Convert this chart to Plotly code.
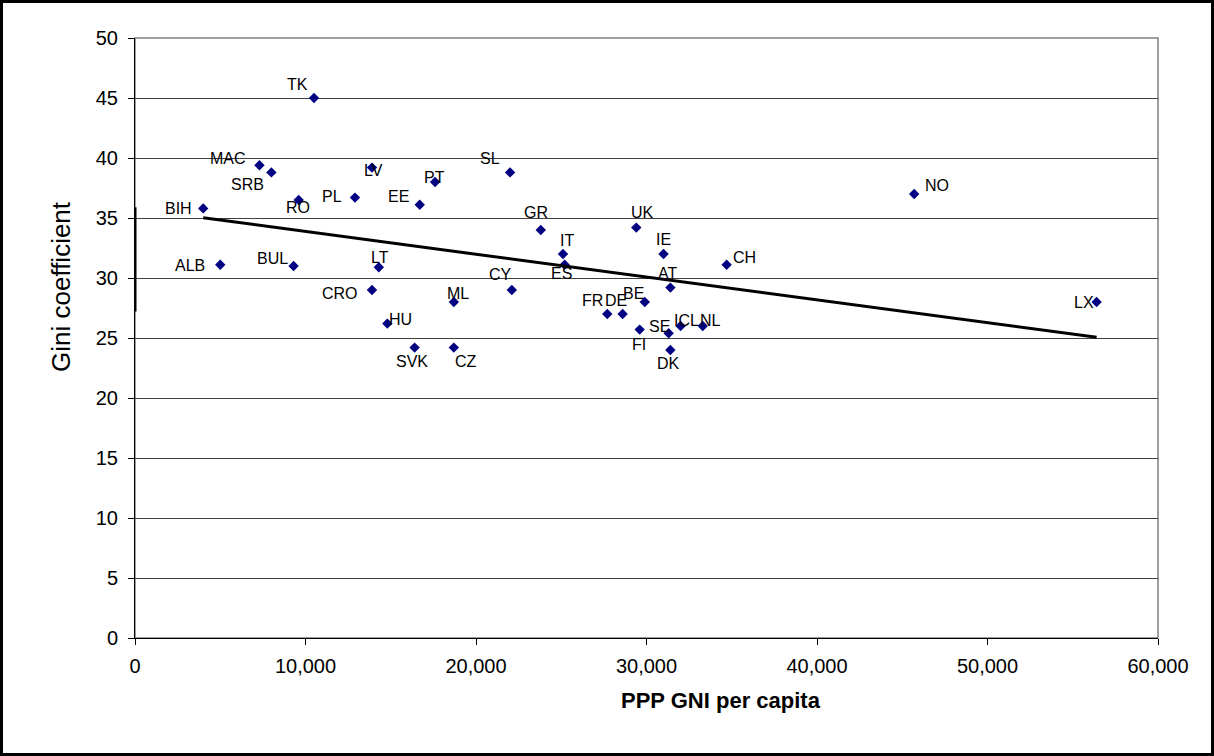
import numpy as np
import plotly.graph_objects as go

# ---- data ----
countries = ["TK", "MAC", "SRB", "BIH", "RO", "PL", "LV", "EE", "PT", "SL", "GR", "UK",
             "IT", "IE", "ALB", "BUL", "LT", "CRO", "ML", "HU", "SVK", "CZ", "CH", "ES",
             "CY", "AT", "BE", "FR", "DE", "FI", "SE", "ICL", "NL", "DK", "NO", "LX"]
gni_ppp = [10500, 7300, 8000, 4000, 9600, 12900, 13900, 16700, 17600, 22000, 23800, 29400,
           25100, 31000, 5000, 9300, 14300, 13900, 18700, 14800, 16400, 18700, 34700, 25200,
           22100, 31400, 29900, 27700, 28600, 29600, 31300, 32000, 33300, 31400, 45700, 56400]
gini = [45.0, 39.4, 38.8, 35.8, 36.5, 36.7, 39.2, 36.1, 38.0, 38.8, 34.0, 34.2,
        32.0, 32.0, 31.1, 31.0, 30.9, 29.0, 28.0, 26.2, 24.2, 24.2, 31.1, 31.1,
        29.0, 29.2, 28.0, 27.0, 27.0, 25.7, 25.4, 26.0, 26.0, 24.0, 37.0, 28.0]
y_ticks = [0, 5, 10, 15, 20, 25, 30, 35, 40, 45, 50]
x_ticks = [0, 10000, 20000, 30000, 40000, 50000, 60000]
axis_bar_y = [27.2, 35.9]   # thick segment drawn on the y axis in the original

# ---- label offsets (pixels: dx right, dy up) ----
label_offsets = {
    "TK": (-17, 14), "MAC": (-31, 7), "SRB": (-24, -12), "BIH": (-25, 0), "RO": (-1, -7),
    "PL": (-23, 1), "LV": (2, -3), "EE": (-21, 8), "PT": (-1, 5), "SL": (-20, 14),
    "GR": (-5, 18), "UK": (6, 15), "IT": (4, 14), "IE": (0, 15), "ALB": (-30, -1),
    "BUL": (-21, 8), "LT": (1, 10), "CRO": (-32, -3), "ML": (4, 9), "HU": (13, 4),
    "SVK": (-3, -14), "CZ": (12, -14), "CH": (18, 7), "ES": (-3, -9), "CY": (-11, 16),
    "AT": (-3, 14), "BE": (-11, 9), "FR": (-15, 14), "DE": (-7, 14), "FI": (-1, -15),
    "SE": (-9, 7), "ICL": (6, 6), "NL": (8, 6), "DK": (-2, -13), "NO": (23, 9),
    "LX": (-13, 0),
}

FONT = "Liberation Sans, Arial, Helvetica, sans-serif"
W, H = 1214, 756
L, R, T, B = 135, 56, 38, 118
PW, PH = W - L - R, H - T - B

# linear trend (OLS) across the data range
slope, intercept = np.polyfit(gni_ppp, gini, 1)
trend_x = [min(gni_ppp), max(gni_ppp)]
trend_y = [intercept + slope * v for v in trend_x]

fig = go.Figure()
fig.add_trace(go.Scatter(
    x=gni_ppp, y=gini, mode="markers",
    marker=dict(symbol="diamond", size=8, color="#000080", line=dict(width=0)),
    showlegend=False, hoverinfo="x+y",
))
fig.add_trace(go.Scatter(
    x=trend_x, y=trend_y, mode="lines",
    line=dict(color="black", width=3), showlegend=False, hoverinfo="skip",
))

annotations = []
for c, xv, yv in zip(countries, gni_ppp, gini):
    dx, dy = label_offsets[c]
    annotations.append(dict(
        x=xv, y=yv, xref="x", yref="y", text=c, showarrow=False,
        xshift=dx, yshift=dy, xanchor="center", yanchor="middle",
        font=dict(family=FONT, size=16, color="black"),
    ))

# axis titles
annotations.append(dict(
    x=(721 - L) / PW, y=(H - B - 700) / PH, xref="paper", yref="paper",
    text="<b>PPP GNI per capita</b>", showarrow=False,
    xanchor="center", yanchor="middle",
    font=dict(family=FONT, size=22, color="black"),
))
annotations.append(dict(
    x=(61 - L) / PW, y=(H - B - 287) / PH, xref="paper", yref="paper",
    text="Gini coefficient", showarrow=False, textangle=-90,
    xanchor="center", yanchor="middle",
    font=dict(family=FONT, size=26, color="black"),
))

shapes = [
    # plot area border
    dict(type="rect", xref="paper", yref="paper", x0=0, x1=1, y0=0, y1=1,
         line=dict(color="#808080", width=1.5), layer="below"),
    # thick segment on the y axis
    dict(type="line", xref="x", yref="y", x0=0, x1=0, y0=axis_bar_y[0], y1=axis_bar_y[1],
         line=dict(color="black", width=3)),
    # outer chart border
    dict(type="rect", xref="paper", yref="paper",
         x0=(-L + 1.5) / PW, x1=(W - L - 1.5) / PW,
         y0=(-B + 1.5) / PH, y1=(H - B - 1.5) / PH,
         line=dict(color="black", width=3)),
]

fig.update_layout(
    width=W, height=H,
    margin=dict(l=L, r=R, t=T, b=B, pad=0),
    paper_bgcolor="white", plot_bgcolor="white",
    font=dict(family=FONT, color="black"),
    annotations=annotations, shapes=shapes,
    showlegend=False,
    xaxis=dict(
        range=[0, 60000], tickvals=x_ticks, tickformat=",",
        showgrid=False, zeroline=False,
        showline=True, linecolor="black", linewidth=1,
        ticks="outside", ticklen=6, tickcolor="black", tickwidth=1,
        tickfont=dict(family=FONT, size=20, color="black"),
        ticklabelstandoff=4,
    ),
    yaxis=dict(
        range=[0, 50], tickvals=y_ticks,
        showgrid=True, gridcolor="#404040", gridwidth=1, zeroline=False,
        showline=True, linecolor="black", linewidth=1,
        ticks="outside", ticklen=6, tickcolor="black", tickwidth=1,
        tickfont=dict(family=FONT, size=20, color="black"),
        ticklabelstandoff=6,
    ),
)

fig.write_html(
    "out.html",
    config={"displayModeBar": False},
    post_script="document.body.style.margin='0px';document.body.style.overflow='hidden';",
)
